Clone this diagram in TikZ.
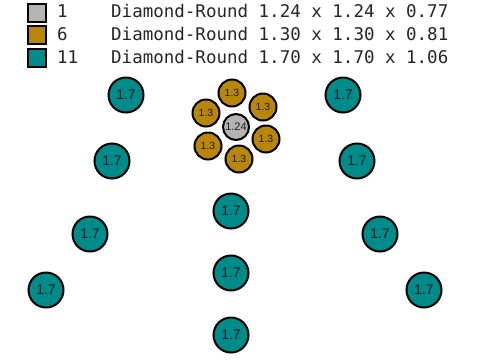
\documentclass[tikz,border=0pt]{standalone}
\usepackage{fontspec}
\setmainfont{Liberation Sans}
\newfontfamily\legendmono{DejaVu Sans Mono}
\definecolor{cgray}{HTML}{B4B4B4}
\definecolor{cgold}{HTML}{B8860B}
\definecolor{cteal}{HTML}{008B8B}
\definecolor{ctext}{HTML}{1E1E1E}
\begin{document}
\begin{tikzpicture}[x=1pt,y=-1pt,
  ball/.style={circle,draw=black,line width=2pt,inner sep=0pt,text=ctext},
  tealball/.style={ball,fill=cteal,minimum size=35pt,font=\fontsize{14}{14}\selectfont},
  goldball/.style={ball,fill=cgold,minimum size=27pt,font=\fontsize{10.5}{10.5}\selectfont},
  grayball/.style={ball,fill=cgray,minimum size=26pt,font=\fontsize{11}{11}\selectfont},
  swatch/.style={draw=black,line width=2pt,minimum size=18pt,inner sep=0pt},
  legtext/.style={anchor=base west,inner sep=0pt,font=\legendmono\fontsize{17.5}{17.5}\selectfont,text=black!85}]
\path[use as bounding box,fill=white] (0,0) rectangle (480,360);
% legend
\node[swatch,fill=cgray] (s1) at (37,12.7) {};
\node[swatch,fill=cgold] (s2) at (37,35) {};
\node[swatch,fill=cteal] (s3) at (37,57.7) {};
\node[legtext] (n1) at (57,17) {1};
\node[legtext] (n2) at (57,40) {6};
\node[legtext] (n3) at (57,63) {11};
\node[legtext] (d1) at (111,17) {Diamond-Round 1.24 x 1.24 x 0.77};
\node[legtext] (d2) at (111,40) {Diamond-Round 1.30 x 1.30 x 0.81};
\node[legtext] (d3) at (111,63) {Diamond-Round 1.70 x 1.70 x 1.06};
% teal stones
\node[tealball] (t1) at (126,95) {1.7};
\node[tealball] (t2) at (343,95) {1.7};
\node[tealball] (t3) at (112,161) {1.7};
\node[tealball] (t4) at (357,161) {1.7};
\node[tealball] (t5) at (90,234) {1.7};
\node[tealball] (t6) at (380,234) {1.7};
\node[tealball] (t7) at (46,290) {1.7};
\node[tealball] (t8) at (424,290) {1.7};
\node[tealball] (t9) at (231,211) {1.7};
\node[tealball] (t10) at (231,273) {1.7};
\node[tealball] (t11) at (231,335) {1.7};
% gold stones
\node[goldball] (g1) at (232,93) {1.3};
\node[goldball] (g2) at (263,107) {1.3};
\node[goldball] (g3) at (206,113) {1.3};
\node[goldball] (g4) at (266,139) {1.3};
\node[goldball] (g5) at (208,146) {1.3};
\node[goldball] (g6) at (239,159) {1.3};
% gray center stone
\node[grayball] (c1) at (236,127) {1.24};
\end{tikzpicture}
\end{document}
